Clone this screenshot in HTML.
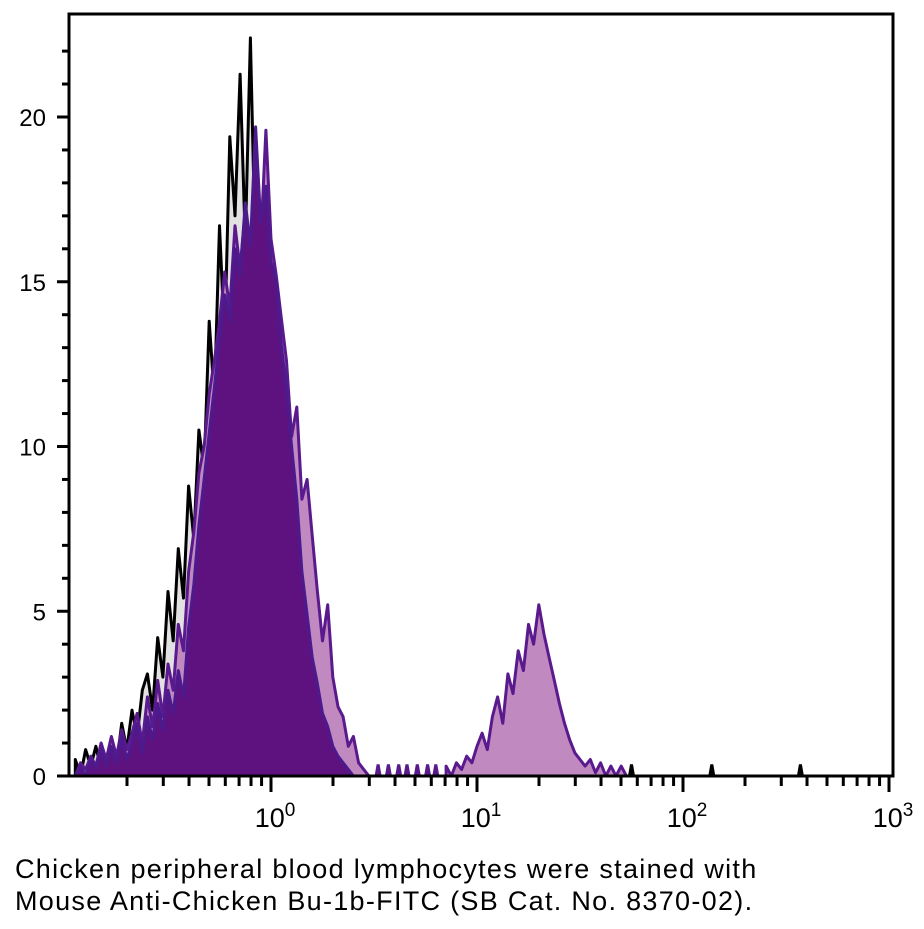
<!DOCTYPE html>
<html><head><meta charset="utf-8">
<style>
body{margin:0;background:#fff;width:924px;height:929px;overflow:hidden;font-family:"Liberation Sans",sans-serif;}
svg{position:absolute;left:0;top:0}
.cap{position:absolute;left:15px;top:853px;font-size:27px;letter-spacing:1.3px;line-height:32px;color:#000;font-family:"Liberation Sans",sans-serif;white-space:nowrap}
</style></head><body>
<svg id="chart" width="924" height="840" viewBox="0 0 924 840"></svg>
<div class="cap">Chicken peripheral blood lymphocytes were stained with<br>Mouse Anti-Chicken Bu-1b-FITC (SB Cat. No. 8370-02).</div>
<script>
const binStart = -0.95;
const binStep = 0.025;
const controlCounts = [0.5,0,0.8,0.3,0.9,0.2,0.6,0.9,0.3,1.6,0.8,2.0,1.2,2.6,3.1,2.0,4.2,3.0,5.6,4.1,6.9,5.4,8.8,7.2,10.5,9.3,13.8,11.5,16.7,13.2,19.4,17.0,21.3,16.2,22.4,15.5,13.0,11.4,9.8,7.5,6.2,4.8,3.9,2.6,2.0,1.4,0.9,0.5,0.3,0.2,0.1,0,0,0,0,0,0,0];
const stainedCounts = [0,0.4,0.2,0.6,0.3,1.0,0.5,1.2,0.6,1.4,0.8,1.3,1.9,1.0,2.4,1.5,2.9,1.8,3.4,2.6,4.6,3.8,6.2,7.4,9.2,10.0,11.6,12.6,13.8,15.3,14.2,16.7,15.4,17.2,15.8,18.1,16.2,19.6,16.3,15.2,13.9,12.6,10.3,11.2,8.4,9.0,7.3,5.6,4.1,5.2,3.0,2.1,1.8,0.9,1.2,0.4,0.2,0];
const darkCounts = [0,0.3,0,0.5,0.2,0.8,0.3,0.9,0.4,1.2,0.5,1.0,1.6,0.7,1.8,1.1,2.2,1.4,2.6,1.9,3.2,2.4,4.5,5.8,7.6,9.0,10.4,11.8,13.2,14.6,13.8,16.0,15.2,17.4,16.1,19.7,16.8,17.9,15.6,15.0,13.1,11.7,10.0,8.4,6.2,4.9,3.6,2.8,1.9,1.5,0.9,0.6,0.4,0.2,0,0,0,0];
const peak2Start = 0.85;
const peak2Counts = [0.3,0,0.4,0.2,0.6,0.4,0.9,1.3,0.8,1.8,2.4,1.6,3.1,2.5,3.8,3.2,4.6,4.0,5.2,4.3,3.6,2.9,2.2,1.6,1.1,0.7,0.5,0.3,0.5,0.1,0.4,0,0.3,0,0.3,0,0];
const stainedSpikeLogs = [0.52,0.57,0.62,0.66,0.71,0.76,0.8];
const controlSpikeLogs = [1.75,2.14,2.57];
const yTicks = [0,5,10,15,20];
const xDecades = [0,1,2,3];

const L=69,R=893,T=14,B=776;
const xOf = lg => 271 + (lg)*206;
const yOf = v => B - v*32.95;
const NS="http://www.w3.org/2000/svg";
const svg=document.getElementById('chart');
function mk(tag,attrs,parent){const e=document.createElementNS(NS,tag);for(const k in attrs)e.setAttribute(k,attrs[k]);(parent||svg).appendChild(e);return e;}

function histPath(start,counts){
  let d=`M${xOf(start).toFixed(1)},${B}`;
  counts.forEach((v,i)=>{d+=` L${xOf(start+i*binStep).toFixed(1)},${yOf(v).toFixed(1)}`;});
  d+=` L${xOf(start+(counts.length-1)*binStep).toFixed(1)},${B} Z`;
  return d;
}
function spikePath(lg,h){const x=xOf(lg);return `M${(x-2).toFixed(1)},${B} L${x.toFixed(1)},${yOf(h).toFixed(1)} L${(x+2).toFixed(1)},${B} Z`;}

let p=mk('path',{d:histPath(binStart,controlCounts),fill:'#e2e2e2',stroke:'#000','stroke-width':3,'stroke-linejoin':'round'});


controlSpikeLogs.forEach(lg=>{const s=mk('path',{d:spikePath(lg,0.35),fill:'#000',stroke:'#000','stroke-width':3});

});

p=mk('path',{d:histPath(binStart,stainedCounts),fill:'#c08ac0',stroke:'#5a1a8e','stroke-width':3,'stroke-linejoin':'round'});


p=mk('path',{d:histPath(peak2Start,peak2Counts),fill:'#c08ac0',stroke:'#5a1a8e','stroke-width':3,'stroke-linejoin':'round'});


stainedSpikeLogs.forEach(lg=>{const s=mk('path',{d:spikePath(lg,0.35),fill:'#5a1a8e',stroke:'#5a1a8e','stroke-width':3});

});

p=mk('path',{d:histPath(binStart,darkCounts),fill:'#5e1280',stroke:'#4c1a8c','stroke-width':3,'stroke-linejoin':'round'});



const ax=mk('g',{stroke:'#000','stroke-width':3,fill:'none'});


mk('path',{d:`M${L},${T} H${R} V${B} H${L} Z`},ax);
for(let v=0;v<=22;v++){const y=yOf(v);const major=v%5===0;mk('line',{x1:major?57:62,x2:L,y1:y,y2:y},ax);}
yTicks.forEach(v=>{const t=mk('text',{x:46,y:yOf(v)+9,'text-anchor':'end','font-size':24,fill:'#000',stroke:'none','font-family':'Liberation Sans, sans-serif'});t.textContent=v;

});
for(let d=-1;d<3;d++){for(let m=1;m<=9;m++){const lg=d+Math.log10(m);const x=xOf(lg);if(x<L+2||x>R)continue;mk('line',{x1:x,x2:x,y1:B,y2:m===1?792:786},ax);}}
mk('line',{x1:xOf(3),x2:xOf(3),y1:B,y2:792},ax);
xDecades.forEach(d=>{const t=mk('text',{x:xOf(d)+4,y:827,'text-anchor':'middle','font-size':27,fill:'#000','font-family':'Liberation Sans, sans-serif'});


const a=mk('tspan',{},t);a.textContent='10';const b=mk('tspan',{dy:-11,'font-size':19},t);b.textContent=d;});
</script>
</body></html>
